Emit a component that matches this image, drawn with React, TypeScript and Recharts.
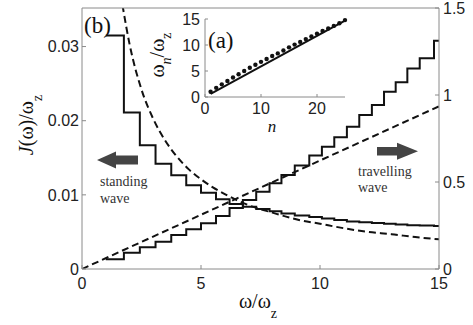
import React from 'react';
import { ComposedChart, Line, XAxis, YAxis, Scatter } from 'recharts';

// eigenmode frequencies omega_n / omega_z, n = 1..25 (step positions)
const modeIndex = [1, 2, 3, 4, 5, 6, 7, 8, 9, 10, 11, 12, 13, 14, 15, 16, 17, 18, 19, 20, 21, 22, 23, 24, 25];
const modeOmega = [1.0, 1.76, 2.43, 3.09, 3.75, 4.38, 5.0, 5.63, 6.2, 6.76, 7.32, 7.88, 8.38, 8.94, 9.55, 10.08, 10.6, 11.13, 11.65, 12.18, 12.69, 13.18, 13.67, 14.19, 14.79];

// standing wave J(omega)/omega_z staircase (left axis)
const standingSteps = [0.0315, 0.0211, 0.0167, 0.0142, 0.01265, 0.0113, 0.0103, 0.0094, 0.00875, 0.0084, 0.0081, 0.0078, 0.0075, 0.0072, 0.007, 0.0068, 0.0066, 0.0064, 0.0063, 0.0062, 0.0061, 0.006, 0.0059, 0.00585, 0.0058];
// travelling wave staircase (right axis)
const travellingSteps = [0.056, 0.094, 0.125, 0.157, 0.195, 0.228, 0.263, 0.305, 0.35, 0.397, 0.444, 0.493, 0.54, 0.595, 0.652, 0.703, 0.757, 0.818, 0.885, 0.943, 1.019, 1.073, 1.153, 1.211, 1.312];

// dashed continuum curves
const standingDashOmega = [1.7, 2, 2.5, 3, 3.5, 4, 4.5, 5, 5.5, 6, 6.5, 7, 8, 9, 10, 11, 12, 13, 14, 15];
const standingDash = [0.0356, 0.0303, 0.0242, 0.0202, 0.0173, 0.0151, 0.0134, 0.0121, 0.011, 0.0101, 0.0093, 0.0086, 0.0076, 0.0067, 0.0061, 0.0055, 0.005, 0.0047, 0.0043, 0.004];
const travellingDashOmega = [0, 15];
const travellingDash = [0, 0.935];

// inset (a): linear reference line
const insetLineN = [1, 25];
const insetLineOmega = [0.6, 14.7];

const xTicks = [0, 5, 10, 15];
const leftTicks = [0, 0.01, 0.02, 0.03];
const rightTicks = [0, 0.5, 1, 1.5];
const insetXTicks = [0, 10, 20];
const insetYTicks = [0, 5, 10, 15];

const OMEGA_MAX = 15;

const stepData = (vals: number[]) => [
  ...modeOmega.map((w, i) => ({ w, v: vals[i] })),
  { w: OMEGA_MAX, v: vals[vals.length - 1] },
];
const standingData = stepData(standingSteps);
const travellingData = stepData(travellingSteps);
const standingDashData = standingDashOmega.map((w, i) => ({ w, v: standingDash[i] }));
const travellingDashData = travellingDashOmega.map((w, i) => ({ w, v: travellingDash[i] }));
const insetDots = modeIndex.map((n, i) => ({ n, w: modeOmega[i] }));
const insetLine = insetLineN.map((n, i) => ({ n, w: insetLineOmega[i] }));

const AXIS = '#8a8a8a';
const SANS = "'Liberation Sans', Arial, sans-serif";
const SERIF = "'Liberation Serif', 'Times New Roman', serif";
const tickStyle = { fill: '#222', fontSize: 16, fontFamily: SANS };

export default function App() {
  return (
    <div style={{ position: 'absolute', left: 0, top: 0, width: 473, height: 325, background: '#fff' }}>
      <ComposedChart width={473} height={325} margin={{ top: 8, right: 4, bottom: 31, left: 22 }}>
        <XAxis xAxisId="x" dataKey="w" type="number" domain={[0, 15]} ticks={xTicks} interval={0}
          allowDataOverflow height={25} tickSize={-4} tickMargin={13} tick={tickStyle}
          axisLine={{ stroke: AXIS }} tickLine={{ stroke: AXIS }} />
        <YAxis yAxisId="L" orientation="left" type="number" domain={[0, 0.0352]} ticks={leftTicks} interval={0}
          allowDataOverflow width={60} tickSize={-4} tickMargin={7} tick={tickStyle}
          axisLine={{ stroke: AXIS }} tickLine={{ stroke: AXIS }} />
        <YAxis yAxisId="R" orientation="right" type="number" domain={[0, 1.5]} ticks={rightTicks} interval={0}
          allowDataOverflow width={30} tickSize={-4} tickMargin={8} tick={{ ...tickStyle, textAnchor: 'start' }}
          axisLine={{ stroke: AXIS }} tickLine={{ stroke: AXIS }} />
        <Line xAxisId="x" yAxisId="L" data={standingDashData} dataKey="v" type="monotone" stroke="#111"
          strokeWidth={2} strokeDasharray="7 4" dot={false} isAnimationActive={false} />
        <Line xAxisId="x" yAxisId="R" data={travellingDashData} dataKey="v" type="linear" stroke="#111"
          strokeWidth={2} strokeDasharray="7 4" dot={false} isAnimationActive={false} />
        <Line xAxisId="x" yAxisId="L" data={standingData} dataKey="v" type="stepAfter" stroke="#111"
          strokeWidth={2} dot={false} isAnimationActive={false} />
        <Line xAxisId="x" yAxisId="R" data={travellingData} dataKey="v" type="stepAfter" stroke="#111"
          strokeWidth={2} dot={false} isAnimationActive={false} />
      </ComposedChart>

      <div style={{ position: 'absolute', left: 148, top: 11 }}>
        <ComposedChart width={200} height={125} margin={{ top: 8, right: 3, bottom: 14, left: 12 }}>
          <rect x={57} y={8} width={140} height={78} fill="#fff" />
          <XAxis dataKey="n" type="number" domain={[0, 25]} ticks={insetXTicks} interval={0} height={25}
            tickSize={-3} tickMargin={9} tick={tickStyle} axisLine={{ stroke: AXIS }} tickLine={{ stroke: AXIS }} />
          <XAxis xAxisId="top" orientation="top" dataKey="n" type="number" domain={[0, 25]} ticks={insetXTicks}
            interval={0} height={0} tickSize={-3} tick={false} axisLine={{ stroke: AXIS }} tickLine={{ stroke: AXIS }} />
          <YAxis dataKey="w" type="number" domain={[0, 15]} ticks={insetYTicks} interval={0} width={45}
            tickSize={-3} tickMargin={8} tick={tickStyle} axisLine={{ stroke: AXIS }} tickLine={{ stroke: AXIS }} />
          <YAxis yAxisId="r" orientation="right" dataKey="w" type="number" domain={[0, 15]} ticks={insetYTicks}
            interval={0} width={0} tickSize={-3} tick={false} axisLine={{ stroke: AXIS }} tickLine={{ stroke: AXIS }} />
          <Line data={insetLine} dataKey="w" type="linear" stroke="#111" strokeWidth={2} dot={false}
            isAnimationActive={false} />
          <Scatter data={insetDots} dataKey="w" fill="#111" isAnimationActive={false}
            shape={(p: any) => <circle cx={p.cx} cy={p.cy} r={2.2} fill="#111" />} />
        </ComposedChart>
      </div>

      <svg width={473} height={325} style={{ position: 'absolute', left: 0, top: 0, pointerEvents: 'none' }}>
        <line x1={82} y1={8} x2={439} y2={8} stroke={AXIS} strokeWidth={1} />
        {/* axis titles */}
        <text transform="translate(33,125) rotate(-90)" textAnchor="middle" fontFamily={SERIF} fontSize={20} fill="#111">
          <tspan fontStyle="italic">J</tspan>(ω)/ω<tspan dy={9} fontSize={14}>z</tspan>
        </text>
        <text x={258} y={308} textAnchor="middle" fontFamily={SERIF} fontSize={20} fill="#111">
          ω/ω<tspan dy={10} fontSize={14}>z</tspan>
        </text>
        <text transform="translate(164,55) rotate(-90)" textAnchor="middle" fontFamily={SERIF} fontSize={20} fill="#111">
          ω<tspan dy={7} fontSize={14} fontStyle="italic">n</tspan><tspan dy={-7} fontSize={20}>/ω</tspan><tspan dy={7} fontSize={14}>z</tspan>
        </text>
        <text x={272} y={132} textAnchor="middle" fontFamily={SERIF} fontSize={17} fontStyle="italic" fill="#111">n</text>
        {/* panel labels */}
        <text x={84} y={33} fontFamily={SERIF} fontSize={23} fill="#111">(b)</text>
        <text x={208} y={48} fontFamily={SERIF} fontSize={23} fill="#111">(a)</text>
        {/* arrows */}
        <polygon points="97,160 116,151.5 116,155.5 138,155.5 138,164.5 116,164.5 116,168.5" fill="#444" />
        <polygon points="418,151.3 397,142.8 397,147 377,147 377,155.6 397,155.6 397,159.8" fill="#444" />
        {/* annotations */}
        <text x={100} y={186} fontFamily={SERIF} fontSize={14} fill="#333">standing</text>
        <text x={100} y={203} fontFamily={SERIF} fontSize={14} fill="#333">wave</text>
        <text x={358} y={176} fontFamily={SERIF} fontSize={14} fill="#333">travelling</text>
        <text x={358} y={192} fontFamily={SERIF} fontSize={14} fill="#333">wave</text>
      </svg>
    </div>
  );
}
